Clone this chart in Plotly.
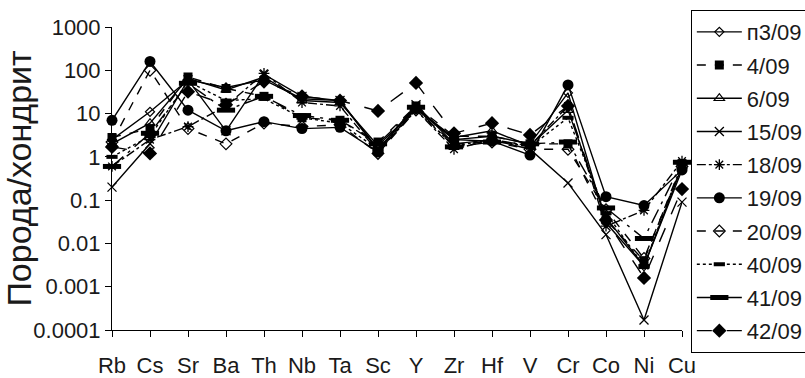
import plotly.graph_objects as go

elements = ["Rb", "Cs", "Sr", "Ba", "Th", "Nb", "Ta", "Sc", "Y", "Zr", "Hf", "V", "Cr", "Co", "Ni", "Cu"]

s_p3_09 = [2.5, 11, 60, 40, 60, 22, 20, 1.5, 14, 2.5, 3.0, 2.0, 30, 0.03, 0.003, 0.5]
s_4_09 = [2.8, 4.5, 70, 38, 25, 8, 7, 2.2, 15, 3.0, 3.0, 2.0, 2.0, 0.035, 0.004, 0.7]
s_6_09 = [2.0, 6, 65, 35, 70, 20, 18, 1.8, 13, 2.8, 4.0, 1.8, 12, 0.04, 0.003, 0.6]
s_15_09 = [0.2, 2.0, 60, 4, 80, 25, 20, 1.4, 16, 2.0, 2.5, 1.5, 0.25, 0.016, 0.00017, 0.09]
s_18_09 = [0.6, 2.5, 5, 15, 85, 18, 15, 1.3, 12, 1.5, 2.5, 1.8, 15, 0.025, 0.058, 0.8]
s_19_09 = [7, 160, 12, 4, 6.5, 4.5, 4.8, 1.3, 13, 2.5, 2.3, 1.1, 46, 0.12, 0.075, 0.5]
s_20_09 = [2.2, 100, 4.5, 2.0, 6, 5, 5.5, 1.2, 12, 2.0, 2.2, 1.5, 1.5, 0.06, 0.0045, 0.6]
s_40_09 = [1.0, 3, 55, 20, 22, 8, 6, 1.5, 12, 1.8, 2.5, 1.7, 8, 0.05, 0.003, 0.7]
s_41_09 = [0.6, 3.5, 50, 12, 25, 9, 7, 2.0, 14, 1.7, 2.2, 2.0, 2.2, 0.066, 0.013, 0.75]
s_42_09 = [1.7, 1.2, 32, 16, 55, 25, 20, 11.5, 51, 3.5, 6, 3.2, 15, 0.035, 0.0016, 0.18]

series_names = ["п3/09", "4/09", "6/09", "15/09", "18/09", "19/09", "20/09", "40/09", "41/09", "42/09"]
series_values = [s_p3_09, s_4_09, s_6_09, s_15_09, s_18_09, s_19_09, s_20_09, s_40_09, s_41_09, s_42_09]

ytick_vals = [0.0001, 0.001, 0.01, 0.1, 1, 10, 100, 1000]
ytick_text = ["0.0001", "0.001", "0.01", "0.1", "1", "10", "100", "1000"]

styles = [
    dict(dash="solid", symbol="diamond-open", size=7, mlw=1.2),
    dict(dash="dash", symbol="square", size=9, mlw=0),
    dict(dash="solid", symbol="triangle-up-open", size=9, mlw=1.2),
    dict(dash="solid", symbol="x-thin-open", size=9, mlw=1.3),
    dict(dash="dashdot", symbol="asterisk-open", size=9, mlw=1.3),
    dict(dash="solid", symbol="circle", size=11, mlw=0),
    dict(dash="dash", symbol="diamond-open", size=9, mlw=1.2),
    dict(dash="dot", symbol="line-ew-open", size=8, mlw=4),
    dict(dash="longdashdot", symbol="line-ew-open", size=13, mlw=5),
    dict(dash="longdash", symbol="diamond", size=11, mlw=0),
]

fig = go.Figure()
for name, vals, st in zip(series_names, series_values, styles):
    fig.add_trace(go.Scatter(
        x=elements, y=vals, name=name, mode="lines+markers",
        legendgroup=name,
        cliponaxis=False,
        line=dict(color="black", width=1.4, dash=st["dash"]),
        marker=dict(symbol=st["symbol"], size=st["size"], color="black",
                    line=dict(color="black", width=st["mlw"])),
    ))

font_family = "Liberation Sans, Arial, sans-serif"

fig.update_layout(
    width=805, height=378,
    margin=dict(l=112, r=123, t=27, b=48, autoexpand=False),
    paper_bgcolor="white", plot_bgcolor="white",
    font=dict(family=font_family, size=22, color="#1a1a1a"),
    showlegend=True,
    legend=dict(
        x=1.0155, y=1.056, xanchor="left", yanchor="top",
        bordercolor="black", borderwidth=1, bgcolor="white",
        font=dict(family=font_family, size=22, color="#1a1a1a"),
        traceorder="grouped", tracegroupgap=1.6, itemwidth=45,
        maxheight=500,
    ),
)

fig.update_xaxes(
    type="category", range=[0, 15],
    showline=True, linecolor="black", linewidth=1,
    ticks="outside", ticklen=6, tickcolor="black", tickwidth=1,
    showgrid=False, zeroline=False,
    tickfont=dict(family=font_family, size=22, color="#1a1a1a"),
    ticklabelstandoff=10,
)
fig.update_yaxes(
    type="log", range=[-4, 3],
    tickvals=ytick_vals, ticktext=ytick_text,
    showline=True, linecolor="black", linewidth=1,
    ticks="outside", ticklen=6, tickcolor="black", tickwidth=1,
    showgrid=False, zeroline=False,
    tickfont=dict(family=font_family, size=22, color="#1a1a1a"),
    title=dict(text="Порода/хондрит", font=dict(family=font_family, size=34, color="#1a1a1a"), standoff=5),
)

fig.write_html("out.html")
